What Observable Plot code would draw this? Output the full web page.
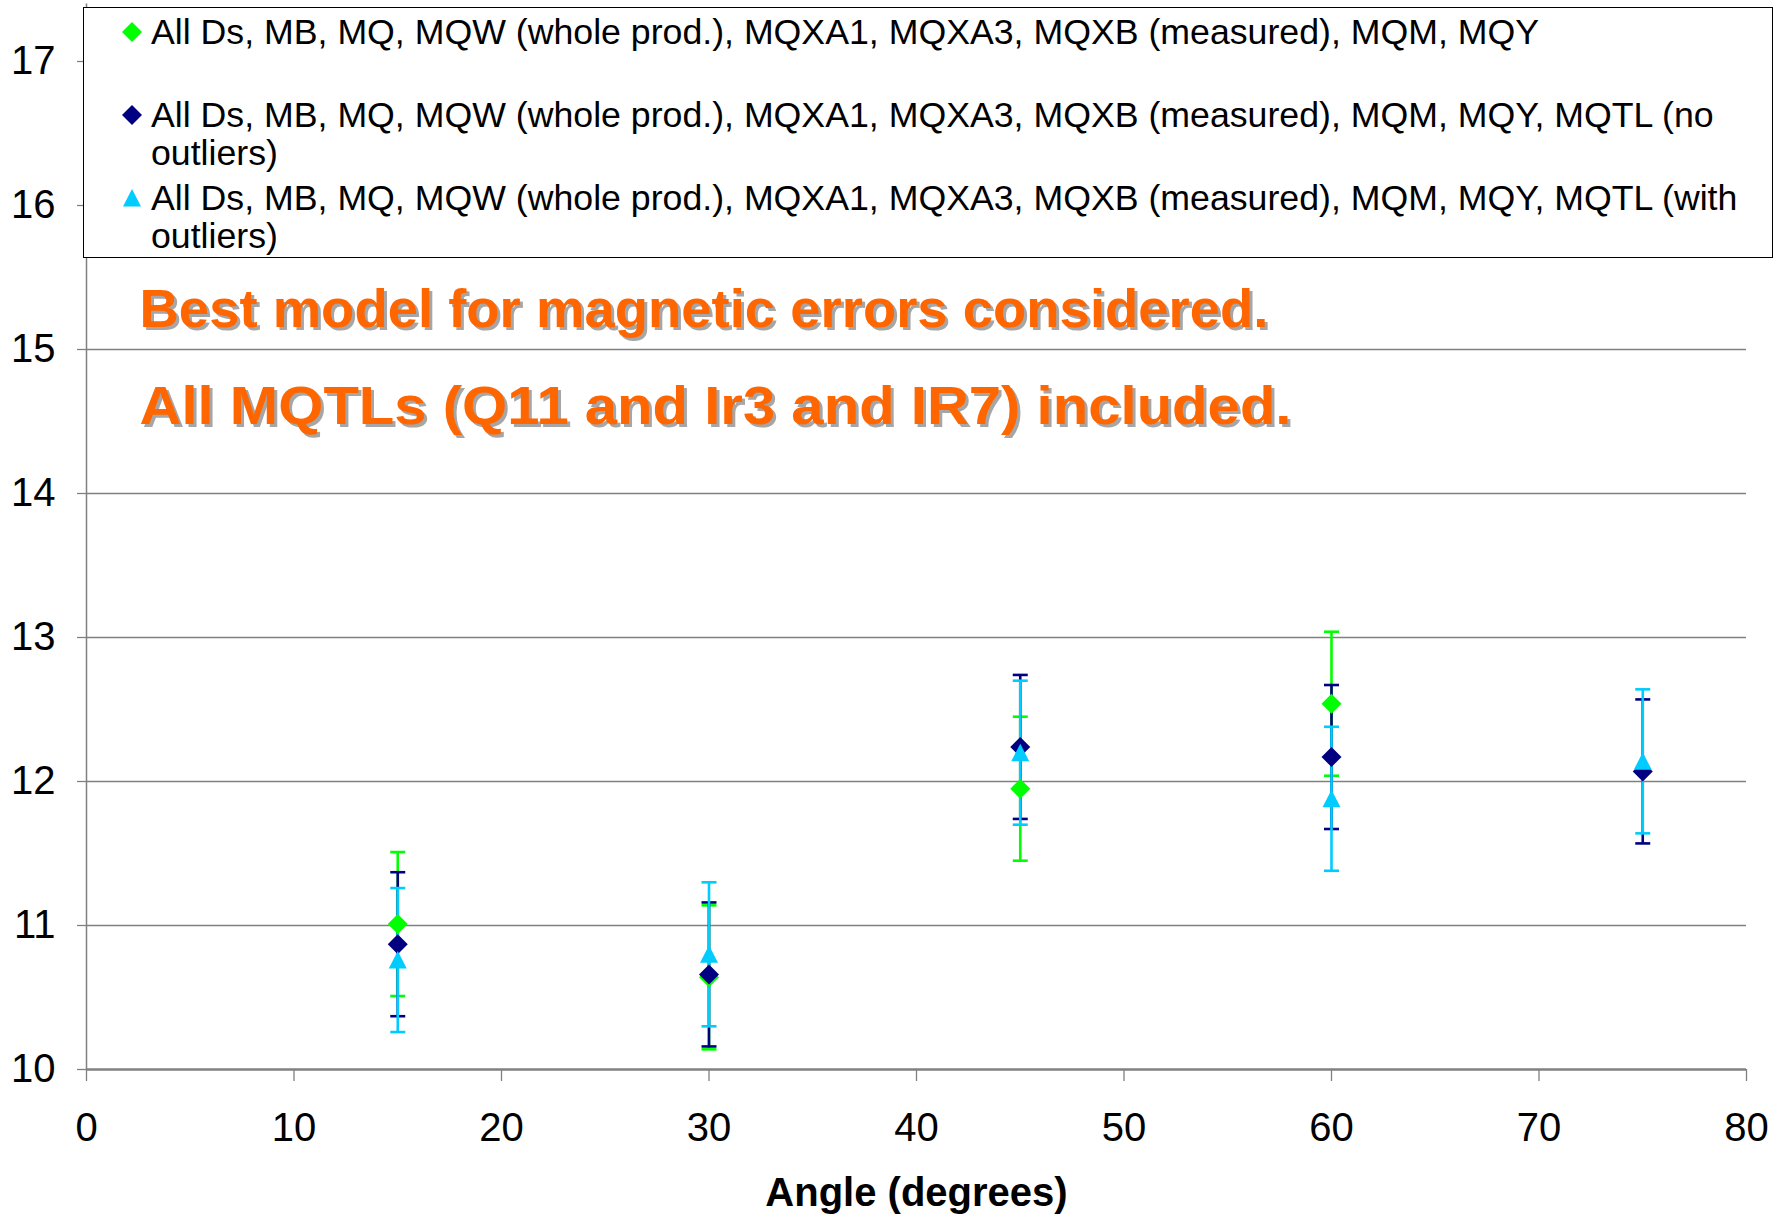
<!DOCTYPE html>
<html>
<head>
<meta charset="utf-8">
<script src="https://cdn.jsdelivr.net/npm/d3@7"></script>
<script src="https://cdn.jsdelivr.net/npm/@observablehq/plot@0.6"></script>
<style>
  html, body { margin: 0; padding: 0; background: #fff; }
  #wrap { position: relative; width: 1783px; height: 1215px; overflow: hidden; font-family: "Liberation Sans", Arial, sans-serif; }
  #legend { position: absolute; left: 83px; top: 7px; width: 1688px; height: 249px; border: 1.5px solid #000; background: #fff; box-sizing: content-box; }
  .item { position: absolute; left: 0; font-size: 35.7px; line-height: 38px; color: #000; white-space: nowrap; }
  .item .txt { position: absolute; left: 67px; top: 0; }
  .item svg { position: absolute; left: 37px; top: 8px; }
</style>
</head>
<body>
<div id="wrap"><div id="chart"></div><div id="legend"></div></div>
<script>
// ---- data ----
const xTicks = [0, 10, 20, 30, 40, 50, 60, 70, 80];
const yTicks = [10, 11, 12, 13, 14, 15, 16, 17];

const seriesNames = [
  "All Ds, MB, MQ, MQW (whole prod.), MQXA1, MQXA3, MQXB (measured), MQM, MQY",
  "All Ds, MB, MQ, MQW (whole prod.), MQXA1, MQXA3, MQXB (measured), MQM, MQY, MQTL (no\noutliers)",
  "All Ds, MB, MQ, MQW (whole prod.), MQXA1, MQXA3, MQXB (measured), MQM, MQY, MQTL (with\noutliers)"
];
const seriesColors = ["#00FF00", "#000080", "#00CCFF"];
const seriesSymbols = ["diamond", "diamond", "triangle"];

const angleGreen = [15, 30, 45, 60];
const valueGreen = [11.01, 10.64, 11.95, 12.54];
const errGreen   = [0.5, 0.5, 0.5, 0.5];

const angleNavy = [15, 30, 45, 60, 75];
const valueNavy = [10.87, 10.66, 12.24, 12.17, 12.07];
const errNavy   = [0.5, 0.5, 0.5, 0.5, 0.5];

const angleCyan = [15, 30, 45, 60, 75];
const valueCyan = [10.76, 10.80, 12.20, 11.88, 12.14];
const errCyan   = [0.5, 0.5, 0.5, 0.5, 0.5];

const annotationLines = [
  "Best model for magnetic errors considered.",
  "All MQTLs (Q11 and Ir3 and IR7) included."
];
const annotationWidths = [1129, 1152];
const xLabel = "Angle (degrees)";

// ---- build tables ----
function rows(angles, values, errs) {
  return angles.map((a, i) => ({angle: a, value: values[i], lo: values[i] - errs[i], hi: values[i] + errs[i]}));
}
const series = [
  rows(angleGreen, valueGreen, errGreen),
  rows(angleNavy, valueNavy, errNavy),
  rows(angleCyan, valueCyan, errCyan)
];

// ---- custom symbols ----
const capSym = {draw(ctx) { ctx.moveTo(-7.5, 0); ctx.lineTo(7.5, 0); }};
const diamondSym = {draw(ctx) { ctx.moveTo(0, -10); ctx.lineTo(10, 0); ctx.lineTo(0, 10); ctx.lineTo(-10, 0); ctx.closePath(); }};
const triangleSym = {draw(ctx) { ctx.moveTo(0, -9); ctx.lineTo(9, 8.5); ctx.lineTo(-9, 8.5); ctx.closePath(); }};
const symFor = s => s === "triangle" ? triangleSym : diamondSym;

const barMarks = [];
const markerMarks = [];
series.forEach((data, i) => {
  const c = seriesColors[i];
  barMarks.push(Plot.ruleX(data, {x: "angle", y1: "lo", y2: "hi", stroke: c, strokeWidth: 2.6}));
  barMarks.push(Plot.dot(data, {x: "angle", y: "lo", symbol: capSym, r: 5, stroke: c, strokeWidth: 2.6, fill: "none"}));
  barMarks.push(Plot.dot(data, {x: "angle", y: "hi", symbol: capSym, r: 5, stroke: c, strokeWidth: 2.6, fill: "none"}));
  markerMarks.push(Plot.dot(data, {x: "angle", y: "value", symbol: symFor(seriesSymbols[i]), r: 5, fill: c, stroke: "none"}));
});

const font = '"Liberation Sans", Arial, sans-serif';

const chart = Plot.plot({
  width: 1783,
  height: 1215,
  marginLeft: 86,
  marginRight: 37,
  marginTop: 3.4,
  marginBottom: 146,
  style: {fontFamily: font, background: "#fff", color: "#000"},
  x: {domain: [0, 80]},
  y: {domain: [10, 17.4]},
  marks: [
    Plot.gridY(yTicks.slice(1), {stroke: "#808080", strokeOpacity: 1, strokeWidth: 1.3}),
    Plot.ruleX([0], {stroke: "#808080", strokeWidth: 1.5}),
    Plot.axisX(xTicks, {tickSize: 12, tickPadding: 31, fontSize: 40, tickFormat: d3.format("d"), stroke: "#808080", strokeWidth: 1.3, label: null, fill: "#000"}),
    Plot.axisY(yTicks, {tickSize: 9, tickPadding: 22, fontSize: 40, tickFormat: d3.format("d"), stroke: "#808080", strokeWidth: 1.3, label: null, fill: "#000"}),
    Plot.ruleY([10], {stroke: "#808080", strokeWidth: 2.6}),
    ...barMarks,
    ...markerMarks,
    // annotation with shadow
    ...annotationLines.map((t, i) => Plot.text([t], {frameAnchor: "top-left", dx: 56, dy: 309 + i * 97, text: d => d, textAnchor: "start", lineAnchor: "middle", fill: "#A6A6A6", fontSize: 54, fontWeight: "bold", fontFamily: font, className: "anno" + i})),
    ...annotationLines.map((t, i) => Plot.text([t], {frameAnchor: "top-left", dx: 53, dy: 306 + i * 97, text: d => d, textAnchor: "start", lineAnchor: "middle", fill: "#FF6600", fontSize: 54, fontWeight: "bold", fontFamily: font, className: "anno" + i})),
    Plot.text([xLabel], {frameAnchor: "bottom", dy: 124, text: d => d, lineAnchor: "middle", fontSize: 40, fontWeight: "bold", fill: "#000", fontFamily: font})
  ]
});
document.getElementById("chart").appendChild(chart);

// stretch annotation lines to the widths seen in the reference
annotationWidths.forEach((w, i) => {
  d3.select(chart).selectAll(".anno" + i + " text").attr("textLength", w).attr("lengthAdjust", "spacingAndGlyphs");
});

// ---- legend (overlapping the plot like the original) ----
const legend = document.getElementById("legend");
const itemTops = [5, 88, 171];
seriesNames.forEach((name, i) => {
  const div = document.createElement("div");
  div.className = "item";
  div.style.top = itemTops[i] + "px";
  const svgNS = "http://www.w3.org/2000/svg";
  const svg = document.createElementNS(svgNS, "svg");
  svg.setAttribute("width", 22); svg.setAttribute("height", 22);
  const p = document.createElementNS(svgNS, "path");
  p.setAttribute("d", seriesSymbols[i] === "triangle" ? "M11,2L20,19.5L2,19.5Z" : "M11,1L21,11L11,21L1,11Z");
  p.setAttribute("fill", seriesColors[i]);
  svg.appendChild(p);
  div.appendChild(svg);
  const t = document.createElement("div");
  t.className = "txt";
  t.innerHTML = name.split("\n").map(s => s.replace(/&/g, "&amp;").replace(/</g, "&lt;")).join("<br>");
  div.appendChild(t);
  legend.appendChild(div);
});
</script>
</body>
</html>
